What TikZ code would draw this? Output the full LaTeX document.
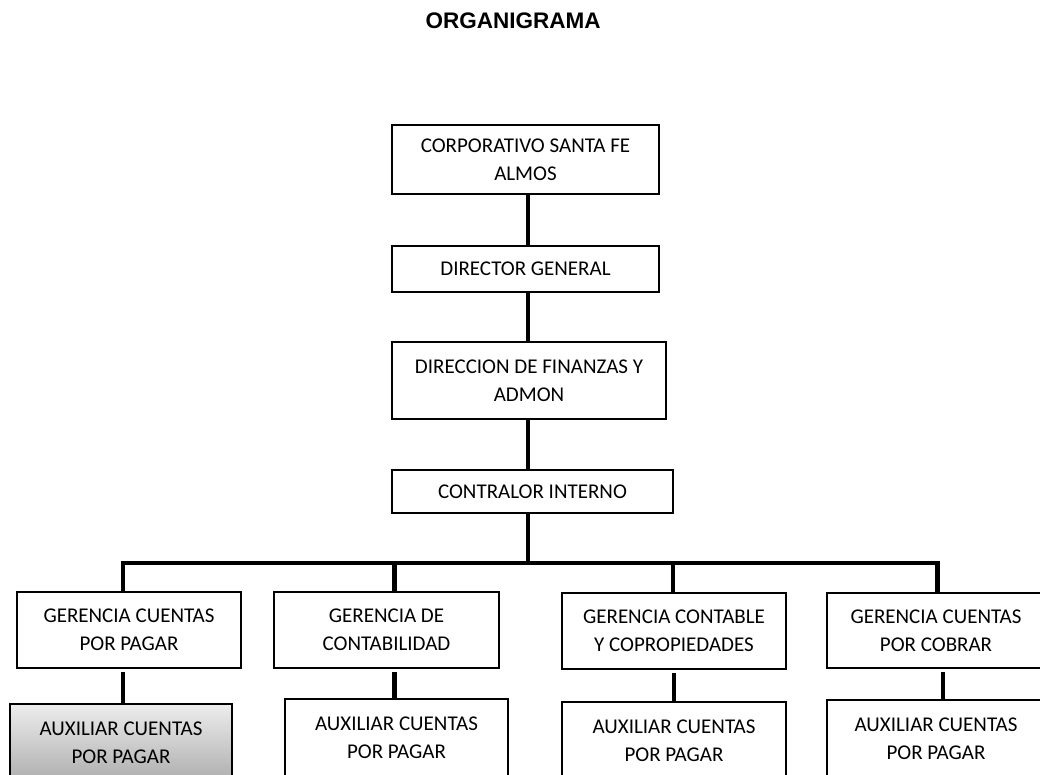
\documentclass[tikz,border=0pt]{standalone}
\usepackage{fontspec}
\setmainfont{Carlito}
\newfontfamily\titlefont{Liberation Sans}
\usetikzlibrary{calc}

\begin{document}
\begin{tikzpicture}[x=1pt, y=-1pt,
        orgbox/.style={draw, line width=2.6pt, inner sep=0pt, align=center,
            font=\fontsize{21}{28}\selectfont},
        link/.style={line width=4.5pt, line join=miter},
        auxbox/.style={orgbox, top color=black!7, bottom color=black!32}]
        \useasboundingbox (0, 0) rectangle (1040, 774);
        \clip (0, 0) rectangle (1040, 774);

        \node[anchor=base, font=\titlefont\bfseries\fontsize{22.5}{27}\selectfont] (title) at (513, 28) {ORGANIGRAMA};

        % cadena superior
        \node[orgbox, minimum width=267, minimum height=69] (corp) at (525.5, 159.5) {CORPORATIVO SANTA FE\\ALMOS};
        \node[orgbox, minimum width=267, minimum height=46] (dir) at (525.5, 269) {DIRECTOR GENERAL};
        \node[orgbox, minimum width=274, minimum height=77] (fin) at (529, 380.5) {DIRECCION DE FINANZAS Y\\ADMON};
        \node[orgbox, minimum width=281, minimum height=43] (contr) at (532.5, 491.5) {CONTRALOR INTERNO};

        % gerencias
        \node[orgbox, minimum width=224, minimum height=76] (ger1) at (129, 630) {GERENCIA CUENTAS\\POR PAGAR};
        \node[orgbox, minimum width=225, minimum height=76] (ger2) at (386.5, 630) {GERENCIA DE\\CONTABILIDAD};
        \node[orgbox, minimum width=224, minimum height=76] (ger3) at (674, 631) {GERENCIA CONTABLE\\Y COPROPIEDADES};
        \node[orgbox, minimum width=218, minimum height=75] (ger4) at (936, 630.5) {GERENCIA CUENTAS\\POR COBRAR};

        % auxiliares
        \node[auxbox, minimum width=222, minimum height=78] (aux1) at (121, 743) {AUXILIAR CUENTAS\\POR PAGAR};
        \node[orgbox, minimum width=223, minimum height=78] (aux2) at (396.5, 738) {AUXILIAR CUENTAS\\POR PAGAR};
        \node[orgbox, minimum width=224, minimum height=78] (aux3) at (674, 741) {AUXILIAR CUENTAS\\POR PAGAR};
        \node[orgbox, minimum width=218, minimum height=78] (aux4) at (936, 739) {AUXILIAR CUENTAS\\POR PAGAR};

        \coordinate (trunk) at (528, 563);
        \coordinate (d1) at (123, 563);
        \coordinate (d2) at (394.5, 563);
        \coordinate (d3) at (673, 563);
        \coordinate (d4) at (937.5, 563);

        \draw[link] (trunk |- corp.south) -- (trunk |- dir.north);
        \draw[link] (trunk |- dir.south) -- (trunk |- fin.north);
        \draw[link] (trunk |- fin.south) -- (trunk |- contr.north);
        \draw[link] (trunk |- contr.south) -- (trunk);
        \draw[link] (d1 |- ger1.north) -- (d1) -- (d4) -- (d4 |- ger4.north);
        \draw[link] (d2) -- (d2 |- ger2.north);
        \draw[link] (d3) -- (d3 |- ger3.north);

        \draw[link, shorten <=3pt] (d1 |- ger1.south) -- (d1 |- aux1.north);
        \draw[link, shorten <=3pt] (d2 |- ger2.south) -- (d2 |- aux2.north);
        \draw[link, shorten <=3pt] (ger3.south) -- (aux3.north);
        \draw[link, shorten <=3pt] ($(ger4.south)+(7,0)$) -- ($(aux4.north)+(7,0)$);
    \end{tikzpicture}
\end{document}
